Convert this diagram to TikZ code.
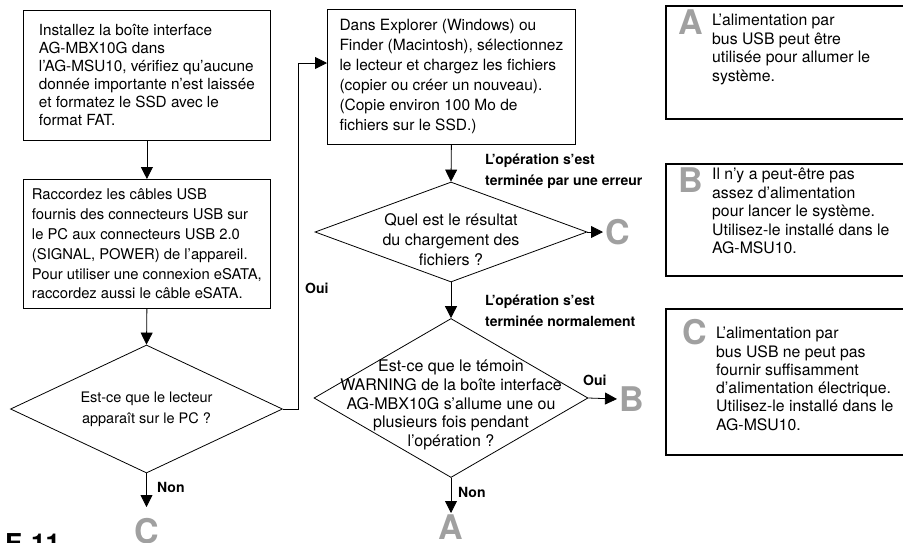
\documentclass[tikz,border=0pt]{standalone}
\usepackage{fontspec}
\setmainfont{TeX Gyre Heros}
\usepackage{xcolor}
\usepackage{tikz}
\usetikzlibrary{shapes,arrows.meta,calc}

\definecolor{lettergray}{RGB}{160,160,160}

\begin{document}
\begin{tikzpicture}[
                x=1pt, y=-1pt,
                stepbox/.style={
                    draw,
                    line width=0.8pt,
                    anchor=north west,
                    inner sep=0pt,
                    align=left,
                    font=\fontsize{15.3}{18}\selectfont
                },
                question/.style={
                    draw,
                    diamond,
                    line width=0.8pt,
                    inner sep=0pt
                },
                asktext/.style={
                    align=center,
                    inner sep=0pt
                },
                notebox/.style={
                    draw,
                    line width=2pt,
                    anchor=north west,
                    inner sep=0pt,
                    minimum width=260pt
                },
                notetext/.style={
                    anchor=north west,
                    align=left,
                    inner sep=0pt,
                    font=\fontsize{15.8}{18.5}\selectfont
                },
                bigletter/.style={
                    text=lettergray,
                    inner sep=2pt,
                    font=\bfseries\fontsize{34}{34}\selectfont
                },
                tag/.style={
                    align=left,
                    inner sep=0pt,
                    font=\bfseries\fontsize{14}{21}\selectfont
                },
                arr/.style={
                    line width=0.8pt,
                    -{Triangle[length=12pt,width=12pt]}
                }
            ]
                \useasboundingbox (0,0) rectangle (903,542);
                \clip (0,0) rectangle (903,542);

                \node[stepbox, minimum width=247pt, minimum height=130pt] (b1) at (23,10) {Installez la boîte interface\\AG-MBX10G dans\\l’AG-MSU10, vérifiez qu’aucune\\donnée importante n’est laissée\\et formatez le SSD avec le\\format FAT.};
                \node[stepbox, minimum width=247pt, minimum height=129pt, font=\fontsize{14.8}{19.8}\selectfont] (b2) at (23,179) {Raccordez les câbles USB\\fournis des connecteurs USB sur\\le PC aux connecteurs USB 2.0\\(SIGNAL, POWER) de l’appareil.\\Pour utiliser une connexion eSATA,\\raccordez aussi le câble eSATA.};
                \node[stepbox, minimum width=248pt, minimum height=135pt, font=\fontsize{15.5}{20}\selectfont] (b3) at (327,9) {Dans Explorer (Windows) ou\\Finder (Macintosh), sélectionnez\\le lecteur et chargez les fichiers\\(copier ou créer un nouveau).\\(Copie environ 100 Mo de\\fichiers sur le SSD.)};

                \node[question, minimum width=272pt, minimum height=128pt] (q1) at (146.5,409) {};
                \node[asktext, font=\fontsize{14.5}{21}\selectfont] (q1t) at (q1) {Est-ce que le lecteur\\apparaît sur le PC ?};
                \node[question, minimum width=272pt, minimum height=100pt] (q2) at (451,232) {};
                \node[asktext, font=\fontsize{16}{20}\selectfont] (q2t) at ($(q2)+(0,8)$) {Quel est le résultat\\du chargement des\\fichiers ?};
                \node[question, minimum width=274pt, minimum height=159pt] (q3) at (451,398) {};
                \node[asktext, font=\fontsize{16}{18.7}\selectfont] (q3t) at ($(q3)+(0,7)$) {Est-ce que le témoin\\WARNING de la boîte interface\\AG-MBX10G s’allume une ou\\plusieurs fois pendant\\l’opération ?};

                \node[bigletter, anchor=north] (cL1) at (146.5,516) {C};
                \node[bigletter, anchor=west] (cL2) at (603,232) {C};
                \node[bigletter, anchor=west] (bL) at (617,399) {B};
                \node[bigletter, anchor=north] (aL) at (451,513) {A};

                \draw[arr] (b1.south) -- (b2.north);
                \draw[arr] (b2.south) -- (q1.north);
                \draw[arr, shorten >=9pt] (q1.south) -- (cL1.north);
                \draw[arr] (q1.east) -- ++(15,0) |- ($(b3.north west)+(0,54)$);
                \draw[arr] (b3.south) -- (q2.north);
                \draw[arr] (q2.east) -- (cL2.west);
                \draw[arr] (q2.south) -- (q3.north);
                \draw[arr] (q3.east) -- (bL.west);
                \draw[arr] (q3.south) -- (aL.north);

                \node[tag, anchor=west] (oui1) at (305,288) {Oui};
                \node[tag, anchor=west] (non1) at (157,487) {Non};
                \node[tag, anchor=north west] (err) at (485,154) {L’opération s’est\\terminée par une erreur};
                \node[tag, anchor=north west] (ok) at (485,295) {L’opération s’est\\terminée normalement};
                \node[tag, anchor=west] (oui2) at (583,380) {Oui};
                \node[tag, anchor=west] (non2) at (458,492) {Non};

                \node[notebox, minimum height=113pt] (nA) at (665,5) {};
                \node[bigletter, anchor=north west] (nAl) at (676,8) {A};
                \node[notetext] (nAt) at (712,14) {L’alimentation par\\bus USB peut être\\utilisée pour allumer le\\système.};

                \node[notebox, minimum height=112pt] (nB) at (665,163) {};
                \node[bigletter, anchor=north west] (nBl) at (676,166) {B};
                \node[notetext] (nBt) at (712,168) {Il n’y a peut-être pas\\assez d’alimentation\\pour lancer le système.\\Utilisez-le installé dans le\\AG-MSU10.};

                \node[notebox, minimum height=146pt] (nC) at (665,308) {};
                \node[bigletter, anchor=north west] (nCl) at (680,317) {C};
                \node[notetext, font=\fontsize{15.8}{18.3}\selectfont] (nCt) at (716,327) {L’alimentation par\\bus USB ne peut pas\\fournir suffisamment\\d’alimentation électrique.\\Utilisez-le installé dans le\\AG-MSU10.};

                \node[anchor=north west, inner sep=0pt, font=\bfseries\fontsize{26}{26}\selectfont] (page) at (5,533) {E-11};
             \end{tikzpicture}
\end{document}
